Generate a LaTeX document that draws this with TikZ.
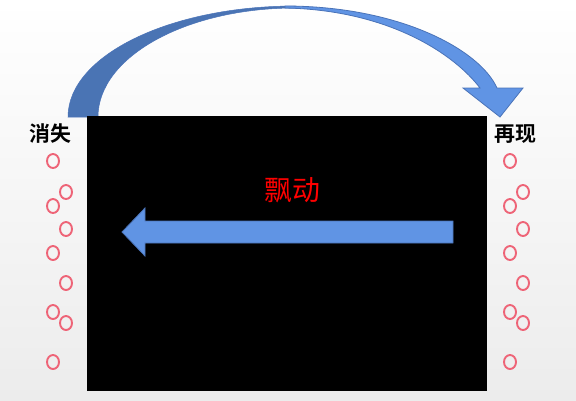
\documentclass[tikz,border=0pt]{standalone}
\usepackage{fontspec}
\newfontfamily\cjk{Noto Sans CJK SC}[BoldFont={Noto Sans CJK SC Bold}]
\usepackage{tikz}
\usetikzlibrary{positioning}

\definecolor{arrowlight}{HTML}{6094E4}
\definecolor{arrowdark}{HTML}{4A74B4}
\definecolor{arrowline}{HTML}{4A73B8}
\definecolor{dotred}{HTML}{EE6477}
\definecolor{bgbottom}{HTML}{ECECEC}

\begin{document}
\begin{tikzpicture}[
    x=1bp, y=-1bp,
    every node/.style={inner sep=0pt, align=center},
    side/.style={font=\cjk\bfseries\fontsize{21}{21}\selectfont, text=black},
    title/.style={font=\cjk\fontsize{28}{28}\selectfont, text=red},
    bubble/.style={draw=dotred, line width=1.9bp},
    blockarrow/.style={fill=arrowlight, draw=arrowline, line width=0.8bp, line join=miter}
]

\useasboundingbox (0,0) rectangle (576,400);
\shade[top color=white, bottom color=bgbottom] (0,0) rectangle (576,400);

% curved arrow over the top
\fill[arrowdark, draw=arrowline, line width=0.5bp] (68,117) .. controls (68,55.7) and (169.6,6) .. (295,6)
    -- (295,8) .. controls (186.2,8) and (98,56.8) .. (98,117) -- cycle;
\draw[blockarrow] (285,6) .. controls (400,6) and (480,50) .. (497,88)
    -- (523,88) -- (500,117) -- (463,88) -- (480,88)
    .. controls (455,55) and (390,10) .. (285,8) -- cycle;

\fill[black] (87,116) rectangle (487,391);
\coordinate (screen) at (287,253);

\node[side] (vanish) at (50,134) {消失};
\node[side] (appear) at (515,134) {再现};
\node[title] (drift) at (292,190) {飘动};

\draw[blockarrow] (453,221) -- (145,221) -- (145,208) -- (122,232)
    -- (145,256) -- (145,243) -- (453,243) -- cycle;

\foreach \dx in {0,457}{
    \foreach \y in {161,206,253,312,362}
        \draw[bubble] (53+\dx,\y) ellipse [x radius=6, y radius=7];
    \foreach \y in {192,229,283,323}
        \draw[bubble] (66+\dx,\y) ellipse [x radius=6, y radius=7];
}

\end{tikzpicture}
\end{document}
